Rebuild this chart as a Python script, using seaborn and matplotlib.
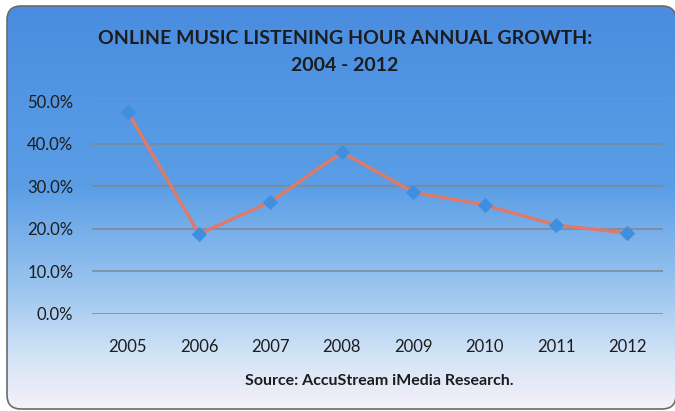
import numpy as np
import pandas as pd
import matplotlib
matplotlib.use("Agg")
import matplotlib.pyplot as plt
from matplotlib.patches import FancyBboxPatch
from matplotlib.colors import LinearSegmentedColormap
import seaborn as sns

years = ["2005", "2006", "2007", "2008", "2009", "2010", "2011", "2012"]
growth = [0.474, 0.188, 0.263, 0.380, 0.286, 0.256, 0.209, 0.190]
y_ticks = [0.0, 0.1, 0.2, 0.3, 0.4, 0.5]
title_text = "ONLINE MUSIC LISTENING HOUR ANNUAL GROWTH:\n2004 - 2012"
source_text = "Source: AccuStream iMedia Research."

sns.set_style("white")
plt.rcParams["font.family"] = ["Lato", "DejaVu Sans"]

W, H = 675, 411
fig = plt.figure(figsize=(W / 100, H / 100), dpi=100)
fig.patch.set_facecolor("white")

# rounded panel with a vertical blue-to-white gradient
bg = fig.add_axes([0, 0, 1, 1])
bg.set_xlim(0, W)
bg.set_ylim(H, 0)
bg.axis("off")
grad_cmap = LinearSegmentedColormap.from_list(
    "panel",
    [(0.0, "#4a8de0"), (0.45, "#5b9ee6"), (0.72, "#a0c8f0"),
     (0.86, "#cfe2f6"), (1.0, "#f6f1f8")],
)
grad = np.linspace(0, 1, 256).reshape(-1, 1)
img = bg.imshow(grad, cmap=grad_cmap, aspect="auto",
                extent=(7, 676, 409, 6), zorder=0)
panel = FancyBboxPatch((7, 6), 669, 403,
                       boxstyle="round,pad=0,rounding_size=14",
                       facecolor="none", edgecolor="#6b6b6b", linewidth=1.2,
                       zorder=1)
bg.add_patch(panel)
img.set_clip_path(panel)

# plotting area
ax = fig.add_axes([92 / W, 1 - 314 / H, (663 - 92) / W, (314 - 101) / H])
ax.patch.set_alpha(0)
df = pd.DataFrame({"year": years, "growth": growth})
sns.lineplot(data=df, x="year", y="growth", ax=ax, sort=False,
             color="#e07a68", linewidth=2.4, marker="D", markersize=7,
             markerfacecolor="#3f8fe0", markeredgecolor="#3f8fe0",
             clip_on=False, zorder=3)

ax.set_xlim(-0.5, len(years) - 0.5)
ax.set_ylim(0, 0.5)
ax.set_yticks(y_ticks)
ax.set_yticklabels([f"{v * 100:.1f}%" for v in y_ticks])
for v in y_ticks:
    ax.axhline(v, color="#7d8791", linewidth=1.1, zorder=1)
for s in ax.spines.values():
    s.set_visible(False)
ax.set_xlabel("")
ax.set_ylabel("")
ax.tick_params(axis="both", length=0, labelsize=12, colors="#1c1c1c")
ax.tick_params(axis="y", pad=13.5)
ax.tick_params(axis="x", pad=18)

fig.text(345 / W, 1 - 52 / H, title_text, ha="center", va="center",
         fontsize=14, fontweight="bold", color="#1c1c1c", linespacing=1.7)
fig.text(379 / W, 1 - 381 / H, source_text, ha="center", va="center",
         fontsize=11.5, fontweight="bold", color="#1c1c1c")

fig.savefig("out.png", dpi=100)
